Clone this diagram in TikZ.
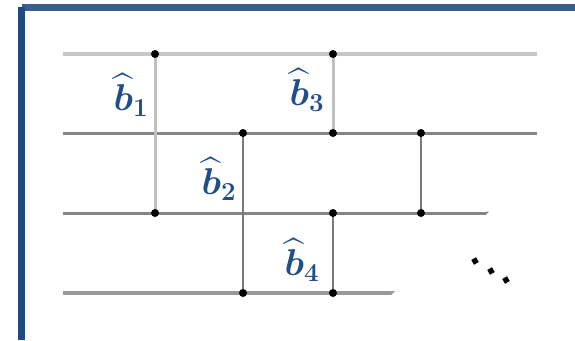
\documentclass[tikz,border=0pt]{standalone}
\usepackage{amsmath}
\newcommand{\lsub}[1]{_{\text{\bfseries\LARGE #1}}}
\begin{document}
\begin{tikzpicture}[x=1pt,y=-1pt,
  wirelight/.style={draw=black!22,line width=4.5pt},
  wiredark/.style={draw=black!48,line width=3pt},
  runglight/.style={draw=black!25,line width=3pt},
  rungdark/.style={draw=black!52,line width=2.2pt},
  dot/.style={circle,fill=black,inner sep=0pt,minimum size=8pt},
  lbl/.style={text=labelblue,font=\Huge\boldmath,inner sep=0pt,scale=1.5,transform shape},
  ell/.style={fill=black,rotate=30,inner sep=0pt,minimum size=5.5pt}]
\definecolor{labelblue}{HTML}{1F4E8A}
\definecolor{frametop}{HTML}{3A5F8C}
\definecolor{frameleft}{HTML}{1F4A80}
\useasboundingbox (0,0) rectangle (575,340);
\fill[white] (0,0) rectangle (575,340);
% frame
\fill[frametop] (22,4) rectangle (575,11);
\fill[frameleft] (18,7) rectangle (25,340);
% wire end points
\coordinate (w1a) at (63,54);  \coordinate (w1b) at (537,54);
\coordinate (w2a) at (63,133); \coordinate (w2b) at (537,133);
\coordinate (w3a) at (63,213); \coordinate (w3b) at (486,213);
\coordinate (w4a) at (63,293); \coordinate (w4b) at (391,293);
% junction coordinates
\coordinate (d1t) at (155,54);
\coordinate (d1b) at (155,213);
\coordinate (d3t) at (333,54);
\coordinate (d3b) at (333,133);
\coordinate (d2t) at (243,133);
\coordinate (d2b) at (243,293);
\coordinate (d5t) at (421,133);
\coordinate (d5b) at (421,213);
\coordinate (d4t) at (333,213);
\coordinate (d4b) at (333,293);
% wires
\draw[wirelight] (w1a) -- (w1b);
\draw[wiredark] (w2a) -- (w2b);
\draw[wiredark] (w3a) -- (w3b);
\fill[black!48] (486,211.5) -- (489,211.5) -- (486,214.5) -- cycle;
\draw[draw=black!40,line width=4pt] (w4a) -- (w4b);
\fill[black!40] (391,291) -- (395,291) -- (391,295) -- cycle;
% rungs
\draw[runglight] (d1t) -- (d1b);
\draw[runglight] (d3t) -- (d3b);
\draw[rungdark] (d2t) -- (d2b);
\draw[rungdark] (d5t) -- (d5b);
\draw[rungdark] (d4t) -- (d4b);
% dots
\foreach \n in {d1t,d1b,d3t,d3b,d2t,d2b,d5t,d5b,d4t,d4b}
  \node[dot] (n\n) at (\n) {};
% labels
\node[lbl] (b1) at (131,95) {$\widehat{b}\lsub{1}$};
\node[lbl] (b3) at (307,90) {$\widehat{b}\lsub{3}$};
\node[lbl] (b2) at (219,179) {$\widehat{b}\lsub{2}$};
\node[lbl] (b4) at (302,260) {$\widehat{b}\lsub{4}$};
% ellipsis
\node[ell] (e1) at (475,261) {};
\node[ell] (e2) at (491,271) {};
\node[ell] (e3) at (506,280) {};
\end{tikzpicture}
\end{document}
